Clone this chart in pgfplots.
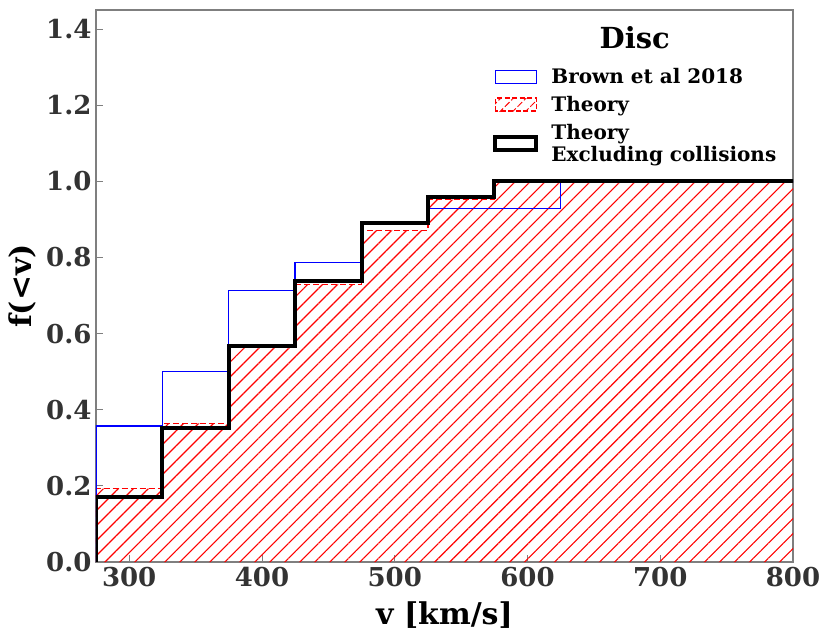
\documentclass[border=0pt]{standalone}
\usepackage{pgfplots}
\pgfplotsset{compat=1.18}
\usetikzlibrary{patterns.meta}
\usepackage{fontspec}
\setmainfont{DejaVu Serif}
\definecolor{tickgray}{HTML}{333333}
\definecolor{framegray}{HTML}{7F7F7F}
\begin{document}
\begin{tikzpicture}
\useasboundingbox (-96bp,-75bp) rectangle (735bp,562bp);
\begin{axis}[
  at={(0,0)}, anchor=south west,
  scale only axis, width=697bp, height=552bp,
  xmin=275, xmax=800, ymin=0, ymax=1.45,
  xtick={300,400,500,600,700,800},
  ytick={0,0.2,0.4,0.6,0.8,1.0,1.2,1.4},
  yticklabel style={/pgf/number format/fixed,/pgf/number format/fixed zerofill,/pgf/number format/precision=1},
  /pgf/number format/assume math mode=true,
  scaled ticks=false,
  tick align=inside, xtick pos=left, ytick pos=left,
  major tick length=7bp,
  tick style={framegray, line width=0.9bp},
  axis line style={framegray, line width=1.3bp},
  ticklabel style={font=\fontsize{26bp}{28bp}\selectfont\bfseries, text=tickgray},
  xticklabel style={yshift=-2bp},
  yticklabel style={xshift=-1bp},
  xlabel={v [km/s]}, ylabel={f(<v)},
  label style={font=\fontsize{30bp}{32bp}\selectfont\bfseries},
  xlabel style={yshift=-8bp},
  ylabel style={yshift=3bp},
  legend cell align=left,
  legend style={draw=none, fill=none, at={(rel axis cs:0.5696,0.898)}, anchor=north west,
    font=\fontsize{20bp}{22.5bp}\selectfont\bfseries, nodes={align=left},
    row sep=7bp, inner sep=0pt},
]
% Theory hatched fill
\addplot[const plot, draw=none, pattern={Lines[angle=45,distance=10.6bp,line width=1.1bp]}, pattern color=red, forget plot]
 coordinates {(275,0.193) (325,0.364) (375,0.565) (425,0.729) (475,0.871) (525,0.952) (575,1.0) (825,1.0)} \closedcycle;
% Theory dashed outline
\addplot[const plot, red, line width=1.5bp, dash pattern=on 6bp off 3bp, forget plot]
 coordinates {(275,0) (275,0.193) (325,0.364) (375,0.565) (425,0.729) (475,0.871) (525,0.952) (575,1.0) (825,1.0)};
% Brown et al 2018
\addplot[const plot, blue, line width=1.3bp, forget plot]
 coordinates {(275,0) (275,0.357) (325,0.5) (375,0.714) (425,0.786) (475,0.893) (525,0.929) (575,0.929) (625,1.0) (825,1.0)};
% Theory excluding collisions
\addplot[const plot, black, line width=4bp, forget plot]
 coordinates {(275,0) (275,0.171) (325,0.352) (375,0.568) (425,0.738) (475,0.890) (525,0.958) (575,1.0) (825,1.0)};
\addlegendimage{legend image code/.code={\draw[blue, line width=1.3bp] (0bp,-6.5bp) rectangle (41bp,6.5bp); \path (54bp,0bp);}}
\addlegendentry{Brown et al 2018}
\addlegendimage{legend image code/.code={\draw[red, line width=1.3bp, dash pattern=on 5bp off 2.5bp, pattern={Lines[angle=45,distance=9bp,line width=1bp]}, pattern color=red] (0bp,-6.5bp) rectangle (41bp,6.5bp); \path (54bp,0bp);}}
\addlegendentry{Theory}
\addlegendimage{legend image code/.code={\draw[black, line width=4bp] (0bp,-6.5bp) rectangle (41bp,6.5bp); \path (54bp,0bp);}}
\addlegendentry{Theory\\Excluding collisions}
\node[font=\fontsize{29bp}{31bp}\selectfont\bfseries, anchor=center] at (rel axis cs:0.773,0.95) {Disc};
\end{axis}
\end{tikzpicture}
\end{document}
